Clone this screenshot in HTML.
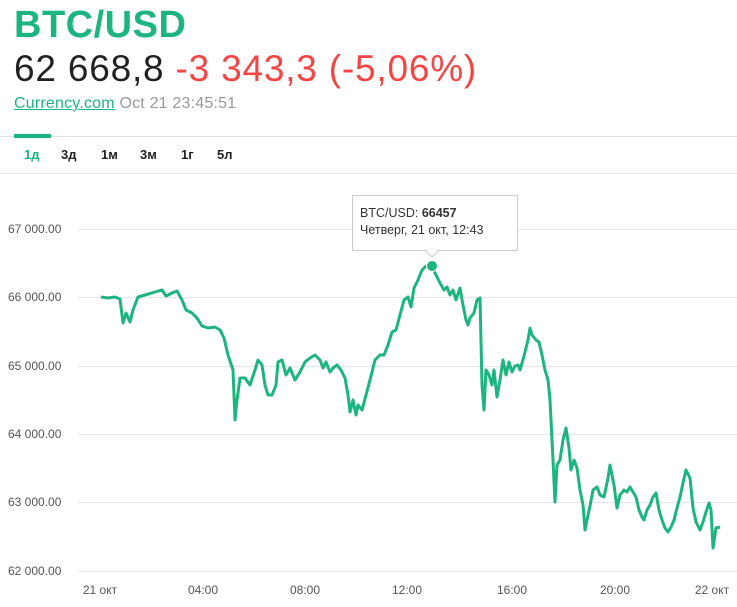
<!DOCTYPE html>
<html><head><meta charset="utf-8"><style>
body{margin:0;width:737px;height:607px;background:#fff;font-family:"Liberation Sans",sans-serif;position:relative;overflow:hidden}
.a{position:absolute;white-space:nowrap}
</style></head><body>
<div class="a" style="left:14px;top:4px;font-size:38px;font-weight:bold;color:#1db57f;letter-spacing:0.5px">BTC/USD</div>
<div class="a" style="left:14px;top:48px;font-size:37px;color:#222;letter-spacing:0.8px">62 668,8 <span style="color:#f44545">-3 343,3 (-5,06%)</span></div>
<div class="a" style="left:14px;top:95px;font-size:16px;color:#999;letter-spacing:0.2px"><span style="color:#1db57f;text-decoration:underline">Currency.com</span> Oct 21 23:45:51</div>
<div class="a" style="left:0;top:136px;width:737px;height:1px;background:#e0e0e0"></div>
<div class="a" style="left:14px;top:134px;width:37px;height:4px;background:#1db57f"></div>
<div class="a" style="left:0;top:173px;width:737px;height:1px;background:#e6e6e6"></div>
<div class="a" style="top:147px;left:0;font-size:13px;font-weight:bold;color:#222">
<span class="a" style="left:24px;color:#1db57f">1д</span><span class="a" style="left:61px">3д</span><span class="a" style="left:101px">1м</span><span class="a" style="left:140px">3м</span><span class="a" style="left:181px">1г</span><span class="a" style="left:217px">5л</span></div>
<svg class="a" style="left:0;top:0" width="737" height="607">
<g stroke="#e6e6e6" stroke-width="1">
<line x1="78" x2="737" y1="229.5" y2="229.5"/><line x1="78" x2="737" y1="297.5" y2="297.5"/><line x1="78" x2="737" y1="366.5" y2="366.5"/><line x1="78" x2="737" y1="434.5" y2="434.5"/><line x1="78" x2="737" y1="502.5" y2="502.5"/><line x1="78" x2="737" y1="571.5" y2="571.5"/></g>
<g font-size="12" fill="#555" font-family="Liberation Sans,sans-serif">
<text x="8" y="233">67 000.00</text><text x="8" y="301">66 000.00</text><text x="8" y="370">65 000.00</text><text x="8" y="438">64 000.00</text><text x="8" y="506">63 000.00</text><text x="8" y="575">62 000.00</text>
<g text-anchor="middle"><text x="100" y="594">21 окт</text><text x="203" y="594">04:00</text><text x="305" y="594">08:00</text><text x="407" y="594">12:00</text><text x="512" y="594">16:00</text><text x="615" y="594">20:00</text><text x="712" y="594">22 окт</text></g></g>
<polyline fill="none" stroke="#1db57f" stroke-width="3" stroke-linejoin="round" points="101,297 108,298 115,297 120,299 123,323 126,313 130,322 133,310 138,297 145,295 155,292 162,290 166,296 172,293 177,291 182,300 186,310 192,313 197,318 202,326 208,328 215,327 220,330 224,338 228,355 233,370 235,420 237,400 240,378 245,378 250,385 255,370 258,360 262,365 265,385 268,395 272,395 276,385 278,362 282,360 286,375 290,368 295,380 300,372 305,362 310,358 315,355 320,360 323,368 326,362 330,372 333,368 337,365 341,370 345,378 348,395 350,412 353,400 356,415 358,405 362,410 366,395 370,380 375,360 380,355 384,355 388,345 392,332 396,330 400,315 404,300 408,297 411,307 414,288 418,280 422,270 426,266 432,267 436,275 440,283 444,290 447,287 450,295 453,290 456,300 460,288 463,305 466,320 468,325 470,318 474,313 477,300 480,298 482,385 484,410 486,370 489,375 492,385 494,370 497,397 500,380 503,360 506,375 509,362 512,372 515,366 518,365 520,370 524,356 528,340 530,328 532,335 536,340 539,342 542,355 545,370 548,380 550,400 553,460 555,502 557,465 560,460 563,440 566,428 569,448 571,470 574,460 577,468 580,490 583,505 585,530 587,520 590,506 593,490 597,487 600,495 604,497 608,478 610,465 612,475 614,485 617,508 620,495 624,490 627,492 630,487 633,492 636,497 639,510 642,517 644,520 647,510 650,505 653,497 656,493 659,510 662,520 665,528 668,532 671,527 674,520 677,508 680,497 683,483 686,470 690,478 693,508 696,522 700,530 703,522 706,512 709,503 711,510 713,548 716,528 720,527"/>
<circle cx="432" cy="266" r="5.5" fill="#1db57f" stroke="#fff" stroke-width="1"/>
<path d="M352.5,195.5 H517.5 V250.5 H438 L432,257 L426,250.5 H352.5 Z" fill="#fff" stroke="#ccc"/>
<g font-size="12.5" fill="#333" font-family="Liberation Sans,sans-serif">
<text x="360" y="217">BTC/USD: <tspan font-weight="bold">66457</tspan></text>
<text x="360" y="234">Четверг, 21 окт, 12:43</text></g>
</svg>
</body></html>
